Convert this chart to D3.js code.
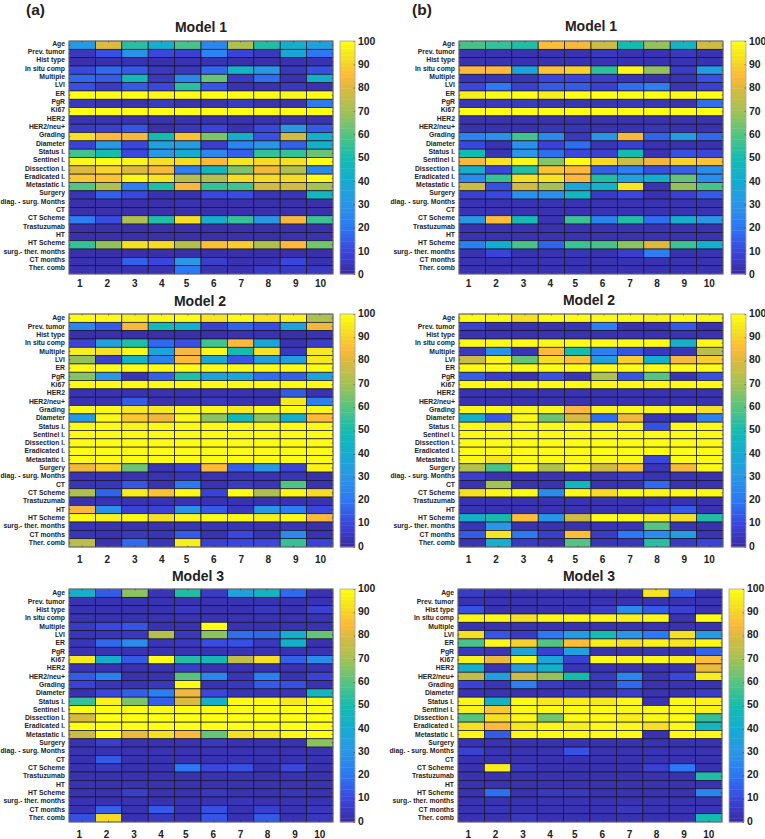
<!DOCTYPE html>
<html>
<head>
<meta charset="utf-8">
<script src="https://cdn.jsdelivr.net/npm/d3@7"></script>
<style>
  html, body { margin: 0; padding: 0; background: #fff; }
  svg { display: block; }
  text { font-family: "Liberation Sans", Arial, sans-serif; font-weight: bold; fill: #222; }
</style>
</head>
<body>
<svg width="765" height="839"></svg>
<script>
var features = ["Age", "Prev. tumor", "Hist type", "In situ comp", "Multiple", "LVI", "ER", "PgR", "Ki67", "HER2",
  "HER2/neu+", "Grading", "Diameter", "Status l.", "Sentinel l.", "Dissection l.", "Eradicated l.", "Metastatic l.",
  "Surgery", "diag. - surg. Months", "CT", "CT Scheme", "Trastuzumab", "HT", "HT Scheme", "surg.- ther. months",
  "CT months", "Ther. comb"];
var folds = [1, 2, 3, 4, 5, 6, 7, 8, 9, 10];
var legendTicks = [0, 10, 20, 30, 40, 50, 60, 70, 80, 90, 100];

// one row per feature
var a1 = [
  [32, 80, 53, 42, 58, 25, 72, 52, 42, 35],
  [5, 12, 28, 10, 8, 24, 9, 5, 38, 20],
  [2, 2, 3, 2, 3, 3, 2, 2, 3, 3],
  [10, 17, 14, 5, 5, 17, 44, 30, 5, 12],
  [17, 14, 47, 5, 25, 62, 6, 18, 3, 42],
  [12, 6, 14, 10, 53, 13, 3, 3, 5, 3],
  [100, 99, 100, 98, 99, 100, 100, 99, 98, 100],
  [5, 3, 3, 6, 3, 3, 6, 3, 3, 20],
  [100, 100, 100, 100, 100, 100, 100, 100, 100, 100],
  [3, 3, 3, 3, 3, 3, 3, 3, 3, 3],
  [6, 7, 13, 2, 5, 9, 3, 10, 30, 14],
  [93, 85, 84, 50, 87, 65, 42, 12, 78, 42],
  [9, 32, 10, 35, 33, 7, 24, 30, 15, 42],
  [57, 50, 10, 30, 40, 25, 15, 55, 55, 63],
  [98, 100, 98, 93, 92, 85, 94, 92, 93, 100],
  [80, 90, 80, 84, 22, 45, 65, 83, 72, 25],
  [88, 87, 98, 94, 73, 73, 92, 92, 92, 99],
  [60, 72, 22, 52, 84, 55, 57, 78, 78, 70],
  [4, 15, 10, 3, 3, 10, 11, 4, 4, 46],
  [2, 2, 2, 2, 3, 2, 2, 2, 2, 2],
  [2, 2, 2, 2, 2, 2, 2, 2, 2, 2],
  [22, 11, 72, 52, 93, 42, 55, 30, 84, 56],
  [2, 2, 2, 2, 2, 2, 2, 2, 2, 2],
  [2, 2, 2, 2, 2, 2, 2, 2, 3, 3],
  [55, 68, 93, 92, 73, 86, 89, 72, 85, 64],
  [2, 2, 2, 2, 2, 2, 2, 2, 2, 2],
  [3, 3, 15, 10, 30, 7, 3, 3, 10, 3],
  [3, 3, 3, 3, 20, 3, 3, 6, 6, 5]
];
var a2 = [
  [99, 99, 96, 98, 99, 94, 99, 94, 97, 72],
  [25, 14, 84, 48, 42, 8, 16, 11, 35, 83],
  [2, 2, 2, 2, 2, 2, 3, 3, 2, 3],
  [9, 35, 52, 17, 12, 57, 85, 37, 3, 7],
  [96, 93, 98, 36, 84, 98, 50, 93, 5, 95],
  [68, 8, 43, 23, 85, 37, 13, 33, 33, 95],
  [99, 99, 99, 99, 99, 99, 99, 99, 99, 99],
  [66, 30, 4, 15, 52, 36, 37, 18, 15, 36],
  [99, 99, 99, 99, 99, 99, 99, 99, 99, 99],
  [3, 3, 3, 3, 3, 3, 3, 3, 14, 3],
  [3, 3, 14, 3, 3, 5, 3, 3, 95, 22],
  [99, 99, 95, 95, 99, 98, 95, 99, 99, 98],
  [32, 98, 88, 83, 98, 67, 47, 67, 42, 85],
  [99, 99, 97, 99, 99, 99, 99, 99, 99, 99],
  [99, 99, 99, 99, 99, 99, 99, 99, 99, 99],
  [99, 99, 99, 99, 99, 99, 99, 99, 99, 99],
  [99, 99, 99, 99, 99, 99, 99, 99, 99, 99],
  [99, 99, 99, 99, 99, 99, 99, 99, 99, 99],
  [83, 90, 63, 4, 8, 85, 15, 30, 9, 97],
  [3, 3, 3, 3, 4, 3, 3, 3, 4, 2],
  [4, 4, 13, 3, 20, 3, 6, 4, 59, 3],
  [72, 16, 96, 87, 99, 9, 100, 72, 98, 92],
  [3, 3, 3, 3, 3, 3, 3, 3, 3, 3],
  [84, 28, 9, 9, 28, 14, 5, 30, 22, 10],
  [99, 97, 99, 93, 98, 99, 99, 96, 99, 85],
  [4, 3, 3, 3, 4, 4, 4, 3, 4, 2],
  [4, 3, 5, 4, 14, 3, 10, 4, 26, 3],
  [74, 3, 17, 4, 96, 8, 10, 10, 55, 9]
];
var a3 = [
  [42, 14, 67, 4, 52, 6, 35, 45, 17, 3],
  [3, 3, 3, 3, 3, 3, 3, 3, 3, 3],
  [3, 3, 3, 3, 5, 3, 3, 5, 3, 8],
  [3, 3, 3, 3, 3, 3, 3, 3, 3, 3],
  [6, 10, 13, 3, 3, 100, 3, 3, 3, 3],
  [4, 4, 5, 73, 5, 67, 18, 17, 42, 62],
  [4, 17, 26, 4, 5, 11, 12, 5, 42, 3],
  [3, 3, 3, 3, 3, 3, 3, 3, 3, 3],
  [95, 42, 14, 100, 52, 48, 75, 93, 15, 27],
  [4, 3, 3, 3, 7, 3, 3, 3, 3, 3],
  [14, 22, 3, 3, 60, 24, 4, 22, 3, 9],
  [8, 4, 3, 5, 99, 3, 5, 14, 12, 3],
  [3, 10, 15, 22, 83, 10, 4, 4, 4, 45],
  [55, 97, 65, 15, 79, 42, 99, 99, 95, 100],
  [100, 100, 100, 100, 100, 100, 100, 100, 100, 100],
  [79, 100, 100, 100, 100, 100, 100, 100, 100, 100],
  [100, 100, 100, 100, 100, 100, 100, 100, 100, 100],
  [77, 99, 82, 93, 85, 62, 93, 95, 98, 100],
  [3, 7, 3, 3, 3, 5, 3, 3, 3, 67],
  [3, 3, 3, 3, 3, 3, 3, 3, 3, 3],
  [3, 14, 3, 3, 3, 3, 3, 3, 3, 3],
  [3, 5, 3, 3, 20, 10, 12, 3, 10, 3],
  [3, 3, 3, 3, 3, 3, 3, 3, 3, 3],
  [3, 3, 3, 3, 3, 3, 3, 3, 3, 3],
  [3, 3, 7, 3, 3, 5, 3, 3, 4, 3],
  [3, 3, 3, 3, 3, 3, 4, 3, 3, 3],
  [3, 15, 3, 14, 3, 12, 3, 8, 3, 5],
  [12, 92, 3, 5, 3, 13, 3, 14, 3, 5]
];
var b1 = [
  [58, 55, 52, 86, 84, 77, 50, 68, 45, 78],
  [3, 3, 3, 3, 3, 5, 3, 3, 5, 3],
  [3, 3, 3, 3, 3, 3, 3, 3, 3, 3],
  [85, 85, 36, 87, 90, 54, 98, 68, 6, 33],
  [4, 4, 4, 10, 10, 7, 4, 3, 4, 12],
  [10, 20, 8, 14, 14, 8, 18, 22, 4, 8],
  [96, 99, 100, 96, 100, 100, 100, 100, 99, 100],
  [4, 5, 6, 4, 4, 4, 5, 4, 3, 18],
  [100, 100, 100, 100, 100, 100, 100, 100, 100, 100],
  [3, 3, 3, 3, 3, 3, 3, 3, 3, 3],
  [3, 3, 3, 4, 4, 3, 3, 4, 3, 3],
  [24, 28, 57, 26, 5, 29, 84, 16, 32, 17],
  [10, 3, 28, 9, 18, 4, 8, 3, 3, 3],
  [50, 4, 30, 18, 10, 8, 50, 3, 12, 10],
  [84, 94, 98, 66, 100, 92, 77, 83, 90, 87],
  [42, 10, 52, 87, 85, 15, 22, 12, 15, 27],
  [26, 55, 93, 94, 85, 52, 35, 42, 62, 27],
  [77, 12, 78, 70, 38, 43, 94, 4, 68, 58],
  [8, 10, 28, 28, 45, 6, 10, 3, 8, 14],
  [3, 3, 3, 3, 3, 3, 3, 3, 3, 3],
  [3, 3, 3, 3, 3, 3, 3, 3, 3, 3],
  [31, 86, 49, 4, 56, 24, 52, 18, 42, 30],
  [3, 3, 3, 3, 3, 3, 3, 3, 3, 3],
  [3, 3, 3, 3, 3, 3, 3, 3, 3, 3],
  [22, 40, 58, 16, 56, 58, 67, 80, 56, 41],
  [3, 9, 3, 3, 4, 3, 7, 22, 3, 3],
  [3, 3, 3, 3, 3, 3, 3, 3, 3, 3],
  [3, 3, 3, 3, 3, 3, 3, 3, 3, 3]
];
var b2 = [
  [99, 99, 93, 99, 99, 98, 99, 97, 99, 98],
  [8, 3, 3, 3, 4, 22, 3, 3, 14, 3],
  [3, 3, 3, 3, 3, 3, 3, 3, 3, 3],
  [98, 98, 99, 98, 99, 99, 99, 99, 42, 98],
  [5, 28, 4, 85, 50, 22, 13, 5, 4, 74],
  [77, 97, 62, 92, 87, 33, 89, 42, 84, 89],
  [99, 99, 99, 99, 99, 99, 99, 99, 99, 99],
  [15, 7, 3, 12, 4, 72, 13, 60, 4, 12],
  [99, 99, 99, 99, 99, 99, 99, 99, 99, 99],
  [3, 3, 3, 3, 3, 3, 3, 3, 3, 3],
  [3, 3, 3, 3, 3, 3, 3, 3, 3, 3],
  [98, 99, 98, 98, 85, 98, 99, 98, 99, 93],
  [43, 14, 98, 63, 79, 18, 83, 4, 4, 23],
  [99, 96, 99, 99, 99, 98, 98, 12, 99, 99],
  [99, 99, 99, 99, 99, 99, 99, 99, 99, 99],
  [99, 99, 99, 99, 99, 99, 99, 99, 99, 99],
  [99, 99, 99, 99, 99, 99, 99, 99, 99, 99],
  [98, 94, 99, 99, 98, 98, 98, 10, 99, 99],
  [73, 58, 98, 72, 98, 78, 87, 4, 84, 98],
  [7, 3, 3, 3, 4, 3, 6, 3, 3, 3],
  [3, 70, 3, 3, 45, 3, 3, 17, 3, 3],
  [93, 98, 99, 27, 99, 92, 99, 98, 99, 99],
  [3, 3, 3, 3, 3, 3, 3, 3, 3, 3],
  [3, 3, 3, 3, 3, 3, 3, 7, 14, 3],
  [42, 50, 86, 30, 78, 99, 99, 96, 93, 52],
  [4, 30, 3, 3, 3, 4, 4, 60, 4, 3],
  [14, 94, 20, 7, 86, 6, 20, 27, 33, 4],
  [3, 42, 6, 3, 60, 4, 4, 53, 6, 9]
];
var b3 = [
  [6, 3, 3, 3, 3, 3, 3, 94, 14, 3],
  [3, 3, 3, 3, 3, 3, 3, 3, 3, 3],
  [12, 3, 3, 3, 3, 7, 26, 14, 8, 3],
  [98, 98, 93, 98, 98, 98, 97, 98, 3, 99],
  [3, 3, 3, 3, 3, 3, 3, 3, 3, 3],
  [93, 13, 6, 20, 33, 50, 30, 20, 93, 32],
  [58, 98, 90, 60, 86, 96, 93, 97, 94, 98],
  [5, 4, 35, 8, 35, 3, 3, 4, 3, 16],
  [97, 82, 98, 37, 8, 99, 98, 98, 97, 86],
  [42, 4, 33, 42, 4, 3, 3, 3, 3, 82],
  [75, 33, 77, 68, 50, 6, 24, 4, 10, 96],
  [9, 4, 22, 6, 3, 4, 17, 3, 3, 3],
  [3, 3, 3, 3, 6, 3, 7, 3, 3, 7],
  [98, 44, 99, 95, 96, 95, 98, 3, 98, 97],
  [97, 88, 99, 99, 99, 99, 98, 99, 99, 97],
  [60, 93, 98, 64, 99, 99, 96, 98, 99, 55],
  [93, 85, 95, 98, 96, 98, 98, 93, 98, 47],
  [98, 14, 99, 99, 99, 99, 99, 3, 99, 98],
  [3, 3, 3, 3, 3, 3, 3, 3, 3, 3],
  [8, 3, 3, 3, 12, 3, 3, 3, 3, 3],
  [3, 3, 3, 3, 3, 3, 3, 3, 3, 3],
  [3, 96, 5, 3, 3, 3, 3, 8, 20, 3],
  [3, 3, 3, 3, 3, 3, 3, 3, 3, 52],
  [3, 3, 3, 3, 3, 3, 3, 3, 3, 3],
  [3, 18, 3, 5, 5, 3, 3, 3, 3, 24],
  [3, 3, 3, 3, 3, 3, 3, 3, 3, 3],
  [3, 4, 3, 3, 3, 3, 5, 3, 3, 4],
  [3, 3, 5, 3, 3, 3, 3, 3, 3, 50]
];

// parula as it looks in this picture
var colorStops = [0, 10, 20, 30, 40, 50, 60, 70, 80, 85, 90, 95, 100];
var colorValues = ["#382a9e", "#3b46dc", "#2c78f5", "#2a96e6", "#15acd2", "#14bcb0", "#55c480", "#a3c254", "#dcba3e",
  "#feb93a", "#f7d22a", "#f6ea1c", "#ffff12"];

var svg = d3.select("svg");
var color = d3.scaleLinear().domain(colorStops).range(colorValues).interpolate(d3.interpolateRgb);

// the tick labels drift away from the column centres in the original
var labelNudge = [-2.3, -1.3, -0.3, 0.3, -1.3, -0.3, 0.7, 1.3, 2.3, 0.7];

function drawPanel(values, title, o) {
  var w = 264, h = 233;
  var g = svg.append("g").attr("transform", "translate(" + o.x + "," + o.y + ")");
  var x = d3.scaleBand().domain(folds).range([0, w]);
  var y = d3.scaleBand().domain(features).range([0, h]);

  values.forEach(function(row, j) {
    g.selectAll(null)
      .data(row)
      .enter().append("rect")
        .attr("x", function(d, i) { return x(folds[i]); })
        .attr("y", y(features[j]))
        .attr("width", x.bandwidth())
        .attr("height", y.bandwidth())
        .attr("fill", function(d) { return color(d); })
        .attr("stroke", "#14122a")
        .attr("stroke-width", 0.7);
  });

  g.append("rect")
    .attr("width", w)
    .attr("height", h)
    .attr("fill", "none")
    .attr("stroke", "#8d8d8d")
    .attr("stroke-width", 0.8);

  var yAxis = g.append("g")
    .call(d3.axisLeft(y).tickSizeInner(-1.5).tickSizeOuter(0).tickPadding(4));
  yAxis.select(".domain").remove();
  yAxis.selectAll("line").attr("stroke", "#333").attr("stroke-width", 0.5);
  yAxis.selectAll("text")
    .attr("dy", o.labelDy)
    .style("font-size", "6.8px");

  var yRight = g.append("g")
    .attr("transform", "translate(" + w + ",0)")
    .call(d3.axisRight(y).tickSizeInner(-1.5).tickSizeOuter(0).tickFormat(""));
  yRight.select(".domain").remove();
  yRight.selectAll("line").attr("stroke", "#333").attr("stroke-width", 0.5);

  var xTop = g.append("g")
    .call(d3.axisTop(x).tickSizeInner(-1.5).tickSizeOuter(0).tickFormat(""));
  xTop.select(".domain").remove();
  xTop.selectAll("line").attr("stroke", "#333").attr("stroke-width", 0.5);

  var xAxis = g.append("g")
    .attr("transform", "translate(0," + h + ")")
    .call(d3.axisBottom(x).tickSizeInner(-1.5).tickSizeOuter(0).tickPadding(o.xPad));
  xAxis.select(".domain").remove();
  xAxis.selectAll("line").attr("stroke", "#333").attr("stroke-width", 0.5);
  xAxis.selectAll("text")
    .attr("dx", function(d, i) { return labelNudge[i] + o.xNudge; })
    .style("font-size", "10px");

  // colorbar, 64 steps like the MATLAB one
  var barY = d3.scaleLinear().domain([0, 100]).range([h, 0]);
  var steps = d3.range(64).map(function(i) { return i * 100 / 64; });
  var bar = svg.append("g").attr("transform", "translate(" + o.barX + "," + o.y + ")");
  bar.selectAll("rect")
    .data(steps)
    .enter().append("rect")
      .attr("x", 0)
      .attr("y", function(d) { return barY(d + 100 / 64); })
      .attr("width", 15)
      .attr("height", h / 64 + 0.4)
      .attr("fill", function(d) { return color(d + 50 / 64); });
  bar.append("rect")
    .attr("width", 15)
    .attr("height", h)
    .attr("fill", "none")
    .attr("stroke", "#a5a5a5")
    .attr("stroke-width", 0.8);
  var barAxis = bar.append("g")
    .attr("transform", "translate(15,0)")
    .call(d3.axisRight(barY).tickValues(legendTicks).tickSizeInner(-1.5).tickSizeOuter(0).tickPadding(3));
  barAxis.select(".domain").remove();
  barAxis.selectAll("line").attr("stroke", "#333").attr("stroke-width", 0.5);
  barAxis.selectAll("text")
    .attr("dy", o.barDy)
    .style("font-size", "10.4px");

  svg.append("text")
    .attr("x", o.titleX)
    .attr("y", o.titleY)
    .attr("text-anchor", "middle")
    .style("font-size", "14px")
    .text(title);
}

drawPanel(a1, "Model 1", {x: 69, y: 41, barX: 340, titleX: 201, titleY: 32, labelDy: "0.08em", xPad: 6, xNudge: 0, barDy: "0.32em"});
drawPanel(a2, "Model 2", {x: 69, y: 314, barX: 340, titleX: 200, titleY: 306, labelDy: "0.32em", xPad: 8.5, xNudge: 0, barDy: "0.22em"});
drawPanel(a3, "Model 3", {x: 69, y: 589, barX: 340, titleX: 198, titleY: 581, labelDy: "0.32em", xPad: 8.5, xNudge: -0.7, barDy: "0.22em"});
drawPanel(b1, "Model 1", {x: 459, y: 41, barX: 731, titleX: 591, titleY: 31, labelDy: "0.08em", xPad: 6, xNudge: -1.3, barDy: "0.32em"});
drawPanel(b2, "Model 2", {x: 459, y: 314, barX: 731, titleX: 589, titleY: 305, labelDy: "0.32em", xPad: 8.5, xNudge: -1.3, barDy: "0.22em"});
drawPanel(b3, "Model 3", {x: 458, y: 589, barX: 729, titleX: 589, titleY: 581, labelDy: "0.32em", xPad: 8.5, xNudge: -0.7, barDy: "0.22em"});

svg.append("text").attr("x", 26).attr("y", 15).style("font-size", "15.5px").text("(a)");
svg.append("text").attr("x", 412).attr("y", 15).style("font-size", "15.5px").text("(b)");
</script>
</body>
</html>
